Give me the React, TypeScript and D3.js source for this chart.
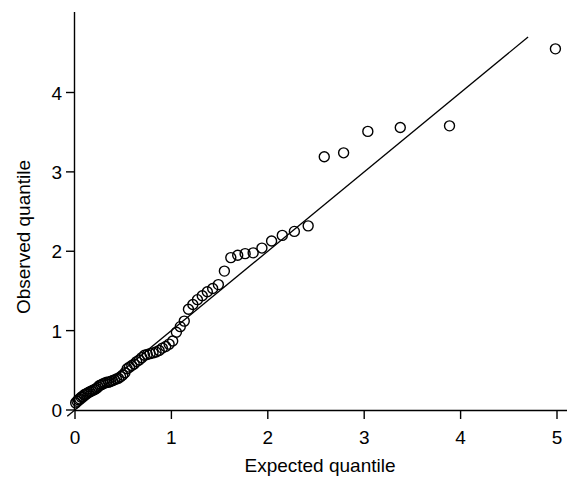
import React from "react";
import * as d3 from "d3";

// Expected quantiles (exponential), ascending
const expected: number[] = [
  0.0069, 0.0208, 0.0349, 0.0491, 0.0636, 0.0783, 0.0933, 0.1084, 0.1238, 0.1394,
  0.1553, 0.1714, 0.1878, 0.2045, 0.2214, 0.2386, 0.2562, 0.2741, 0.2923, 0.3108,
  0.3297, 0.3489, 0.3685, 0.3885, 0.4089, 0.4297, 0.4510, 0.4728, 0.4950, 0.5177,
  0.5410, 0.5648, 0.5892, 0.6142, 0.6398, 0.6661, 0.6932, 0.7209, 0.7495, 0.7789,
  0.8092, 0.8405, 0.8727, 0.9061, 0.9406, 0.9763, 1.0133, 1.0518, 1.0918, 1.1335,
  1.1769, 1.2224, 1.2700, 1.3200, 1.3727, 1.4283, 1.4871, 1.5496, 1.6163, 1.6878,
  1.7647, 1.8481, 1.9391, 2.0392, 2.1504, 2.2756, 2.4187, 2.5857, 2.7864, 3.0377,
  3.3742, 3.8850, 4.9836,
];

// Observed quantiles, ascending
const observed: number[] = [
  0.09, 0.11, 0.13, 0.14, 0.16, 0.17, 0.19, 0.20, 0.21, 0.22,
  0.23, 0.24, 0.25, 0.26, 0.27, 0.29, 0.31, 0.32, 0.33, 0.34,
  0.35, 0.35, 0.36, 0.37, 0.38, 0.39, 0.40, 0.42, 0.44, 0.47,
  0.52, 0.54, 0.56, 0.58, 0.61, 0.63, 0.66, 0.69, 0.70, 0.71,
  0.72, 0.73, 0.75, 0.78, 0.80, 0.83, 0.87, 0.98, 1.05, 1.12,
  1.27, 1.33, 1.39, 1.44, 1.49, 1.53, 1.58, 1.75, 1.92, 1.95,
  1.97, 1.98, 2.04, 2.13, 2.20, 2.25, 2.32, 3.19, 3.24, 3.51,
  3.56, 3.58, 4.55,
];

const xTicks = [0, 1, 2, 3, 4, 5];
const yTicks = [0, 1, 2, 3, 4];
const refLine = [-0.08, 4.7];

export default function App() {
  const W = 572, H = 478;
  const x = d3.scaleLinear().domain([0, 5]).range([75, 557]);
  const y = d3.scaleLinear().domain([0, 4]).range([410, 92.5]);
  const font = "'Liberation Sans', Arial, sans-serif";
  const line = d3.line<number>().x((d) => x(d)).y((d) => y(d));

  return (
    <svg
      width={W}
      height={H}
      style={{ position: "absolute", left: 0, top: 0, background: "#fff" }}
      fontFamily={font}
    >
      {/* axes */}
      <line x1={74.5} x2={74.5} y1={12} y2={410.5} stroke="#000" strokeWidth={1.4} />
      <line x1={74.5} x2={567} y1={410.5} y2={410.5} stroke="#000" strokeWidth={1.4} />
      {xTicks.map((t) => (
        <g key={"x" + t}>
          <line x1={x(t)} x2={x(t)} y1={410.5} y2={419} stroke="#000" strokeWidth={1.4} />
          <text x={x(t)} y={444} textAnchor="middle" fontSize={19}>
            {t}
          </text>
        </g>
      ))}
      {yTicks.map((t) => (
        <g key={"y" + t}>
          <line x1={66} x2={74.5} y1={y(t)} y2={y(t)} stroke="#000" strokeWidth={1.4} />
          <text x={62} y={y(t) + 7} textAnchor="end" fontSize={19}>
            {t}
          </text>
        </g>
      ))}
      <text x={320} y={472} textAnchor="middle" fontSize={19}>
        Expected quantile
      </text>
      <text
        transform={`translate(30,237) rotate(-90)`}
        textAnchor="middle"
        fontSize={19}
      >
        Observed quantile
      </text>
      {/* reference line */}
      <path d={line(refLine) || ""} stroke="#000" strokeWidth={1.3} fill="none" />
      {/* points */}
      {expected.map((e, i) => (
        <circle
          key={i}
          cx={x(e)}
          cy={y(observed[i])}
          r={5}
          fill="none"
          stroke="#000"
          strokeWidth={1.4}
        />
      ))}
    </svg>
  );
}
